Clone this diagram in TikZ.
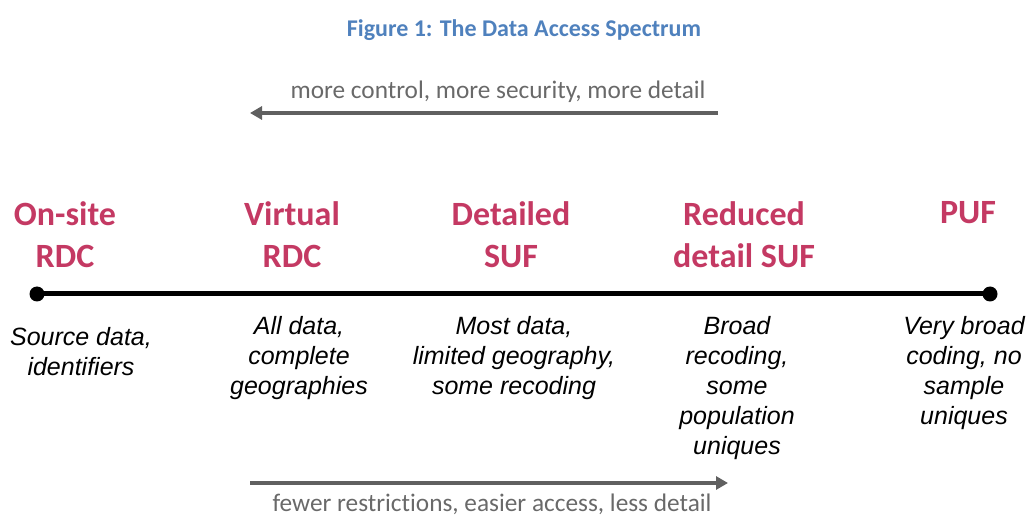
\documentclass[tikz,border=0pt]{standalone}
\usepackage{fontspec}
\setmainfont[Ligatures=NoCommon]{Carlito}
\newfontfamily\labelfont[Ligatures=NoCommon]{Liberation Sans}
\usetikzlibrary{arrows.meta}
\definecolor{headred}{RGB}{196,57,99}
\definecolor{titleblue}{RGB}{79,129,189}
\definecolor{arrowgray}{RGB}{96,96,96}
\definecolor{textgray}{RGB}{105,105,105}
\begin{document}
\begin{tikzpicture}[x=1pt,y=-1pt,
  heading/.style={anchor=north,inner sep=0pt,align=center,text=headred,
    font=\fontsize{34}{42}\selectfont\bfseries},
  desc/.style={anchor=north,inner sep=0pt,align=center,text=black,
    font=\labelfont\itshape\fontsize{25}{30}\selectfont},
  dirtext/.style={anchor=north,inner sep=0pt,text=textgray,
    font=\fontsize{25.3}{30}\selectfont},
  dirarrow/.style={draw=arrowgray,line width=4pt,
    -{Triangle[length=12pt,width=13pt]}},
  endpoint/.style={circle,fill=black,inner sep=0pt,minimum size=15pt}]
\useasboundingbox (0,0) rectangle (1027,518);

\node[anchor=north,inner sep=0pt,text=titleblue,
  font=\fontsize{24}{28}\selectfont\bfseries] (title) at (524,19)
  {Figure 1: The Data Access Spectrum};

\node[dirtext] (toptext) at (498,81) {more control, more security, more detail};
\coordinate (tstart) at (718,113);
\coordinate (tend) at (250,113);
\draw[dirarrow] (tstart) -- (tend);

\node[heading] (onsite) at (65,201) {On-site\\RDC};
\node[heading] (virtual) at (292,201) {Virtual\\RDC};
\node[heading] (detailed) at (511,201) {Detailed\\SUF};
\node[heading] (reduced) at (744,201) {Reduced\\detail SUF};
\node[heading] (puf) at (968,201) {PUF};

\node[endpoint] (left) at (37,294) {};
\node[endpoint] (right) at (990,294) {};
\draw[line width=5pt] (left.center) -- (right.center);

\node[desc] (d1) at (81,327) {Source data,\\identifiers};
\node[desc] (d2) at (299,316) {All data,\\complete\\geographies};
\node[desc] (d3) at (514,316) {Most data,\\limited geography,\\some recoding};
\node[desc] (d4) at (737,316) {Broad\\recoding,\\some\\population\\uniques};
\node[desc] (d5) at (964,316) {Very broad\\coding, no\\sample\\uniques};

\coordinate (bstart) at (250,483);
\coordinate (bend) at (728,483);
\draw[dirarrow] (bstart) -- (bend);
\node[dirtext] (bottext) at (492,494) {fewer restrictions, easier access, less detail};
\end{tikzpicture}
\end{document}
